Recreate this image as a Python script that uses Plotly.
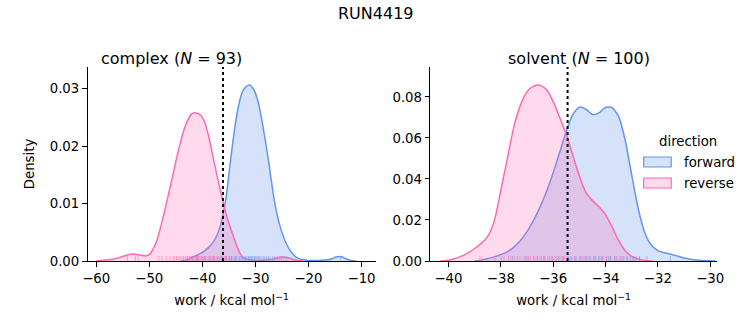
import plotly.graph_objects as go
from plotly.subplots import make_subplots

# ---------------- data ----------------
fig_title = "RUN4419"
panels = ["complex", "solvent"]
n_samples = [93, 100]
directions = ["forward", "reverse"]
x_label = "work / kcal mol<sup>\u22121</sup>"
y_label = "Density"

# density curves
complex_forward_x = [-44, -43, -42, -41, -40, -39, -38, -37.5, -37, -36.5, -36, -35.5, -35, -34.5, -34,
                     -33.5, -33, -32.5, -32, -31.5, -31, -30.5, -30, -29.5, -29, -28.5, -28, -27.5,
                     -27, -26.5, -26, -25.5, -25, -24.5, -24, -23.5, -23, -22.5, -22, -21, -20, -18,
                     -16.5, -15.5, -14.8, -14.2, -13.6, -13, -12, -11]
complex_forward_density = [0, 0.0002, 0.0006, 0.0010, 0.0015, 0.0022, 0.0032, 0.0040, 0.0050, 0.0065,
                           0.0085, 0.0112, 0.0150, 0.0189, 0.0224, 0.0254, 0.0277, 0.0293, 0.0301,
                           0.0305, 0.0306, 0.0301, 0.0292, 0.0277, 0.0256, 0.0230, 0.0202, 0.0173,
                           0.0140, 0.0109, 0.0085, 0.0065, 0.0050, 0.0037, 0.0027, 0.0019, 0.0013,
                           0.0008, 0.0005, 0.0002, 0.0001, 0.0001, 0.0002, 0.0004, 0.0007, 0.0008,
                           0.0007, 0.0004, 0.0001, 0]

complex_reverse_x = [-60, -59, -58, -57, -56, -55, -54, -53, -52, -51, -50.5, -50, -49.5, -49, -48.5,
                     -48, -47.5, -47, -46.5, -46, -45.5, -45, -44.5, -44, -43.5, -43, -42.5, -42,
                     -41.5, -41, -40.5, -40, -39.5, -39, -38.5, -38, -37.5, -37, -36.5, -36, -35.5,
                     -35, -34.5, -34, -33.5, -33, -32.5, -32, -31, -30, -29, -28, -27, -26, -25, -24,
                     -23, -22, -21]
complex_reverse_density = [0, 0.0001, 0.0002, 0.0003, 0.0005, 0.0008, 0.0011, 0.0012, 0.0011, 0.0009,
                           0.0009, 0.0011, 0.0017, 0.0026, 0.0038, 0.0054, 0.0072, 0.0091, 0.0111,
                           0.0131, 0.0152, 0.0173, 0.0193, 0.0211, 0.0227, 0.0240, 0.0250, 0.0256,
                           0.0258, 0.0257, 0.0255, 0.0250, 0.0240, 0.0224, 0.0204, 0.0182, 0.0160,
                           0.0139, 0.0119, 0.0099, 0.0081, 0.0066, 0.0052, 0.0039, 0.0026, 0.0015,
                           0.0008, 0.0004, 0.0002, 0.0001, 0.0001, 0.0002, 0.0003, 0.0005, 0.0007,
                           0.0006, 0.0003, 0.0001, 0]

solvent_forward_x = [-39.0, -38.75, -38.5, -38.25, -38, -37.75, -37.5, -37.25, -37, -36.75, -36.5,
                     -36.25, -36, -35.75, -35.5, -35.25, -35.0, -34.75, -34.5, -34.25, -34.0, -33.75,
                     -33.5, -33.25, -33.0, -32.75, -32.5, -32.25, -32, -31.75, -31.5, -31.25, -31,
                     -30.75, -30.5, -30.25, -30, -29.8]
solvent_forward_density = [0, 0.0004, 0.0012, 0.0020, 0.0031, 0.0046, 0.0068, 0.0100, 0.0143, 0.0198,
                           0.0264, 0.0340, 0.0430, 0.0530, 0.0632, 0.0715, 0.0750, 0.0740, 0.0714,
                           0.0722, 0.0750, 0.0748, 0.0705, 0.0590, 0.0420, 0.0255, 0.0138, 0.0078,
                           0.0051, 0.0040, 0.0033, 0.0024, 0.0015, 0.0009, 0.0005, 0.0002, 0.0001, 0]

solvent_reverse_x = [-40.3, -40, -39.75, -39.5, -39.25, -39, -38.75, -38.5, -38.25, -38, -37.75, -37.5,
                     -37.25, -37, -36.75, -36.5, -36.25, -36, -35.75, -35.5, -35.25, -35, -34.75,
                     -34.5, -34.25, -34, -33.75, -33.5, -33.25, -33, -32.75, -32.5, -32.2]
solvent_reverse_density = [0, 0.0004, 0.0012, 0.0024, 0.0040, 0.0061, 0.0086, 0.0120, 0.0195, 0.0345,
                           0.0500, 0.0655, 0.0760, 0.0825, 0.0853, 0.0857, 0.0835, 0.0778, 0.0700,
                           0.0618, 0.0515, 0.0415, 0.0335, 0.0295, 0.0265, 0.0226, 0.0166, 0.0100,
                           0.0050, 0.0023, 0.0010, 0.0003, 0]

# individual work values (rug)
complex_forward_rug = [-41.0, -39.7, -38.4, -37.9, -37.1, -36.5, -36.2, -35.6, -35.4, -34.9, -34.6, -34.5,
                       -34.0, -33.7, -33.6, -33.1, -32.9, -32.5, -32.4, -32.0, -31.9, -31.6, -31.3,
                       -31.2, -30.9, -30.7, -30.6, -30.2, -30.1, -29.9, -29.7, -29.4, -29.2, -28.9,
                       -28.5, -28.3, -27.9, -27.6, -27.3, -26.8, -26.4, -25.8, -25.1, -24.2, -13.9]
complex_reverse_rug = [-54.1, -52.6, -52.1, -48.2, -47.6, -46.8, -46.1, -45.5, -45.3, -44.9, -44.8,
                       -44.4, -44.2, -43.9, -43.6, -43.5, -43.2, -42.9, -42.8, -42.5, -42.3, -42.2,
                       -41.9, -41.7, -41.6, -41.3, -41.1, -40.9, -40.7, -40.6, -40.3, -40.1, -39.9,
                       -39.7, -39.4, -39.3, -38.9, -38.6, -38.5, -38.0, -37.7, -37.4, -37.0, -36.7,
                       -36.3, -35.9, -35.5, -35.0, -34.4, -33.7, -26.1, -25.4, -24.7]
solvent_forward_rug = [-37.55, -37.0, -36.6, -36.35, -36.05, -35.8, -35.62, -35.4, -35.33, -35.18,
                       -35.12, -34.98, -34.9, -34.76, -34.7, -34.58, -34.45, -34.4, -34.27, -34.15,
                       -34.1, -33.96, -33.88, -33.8, -33.66, -33.6, -33.48, -33.37, -33.3, -33.18,
                       -33.05, -32.96, -32.84, -32.7, -32.42, -31.52]
solvent_reverse_rug = [-38.8, -38.72, -38.23, -37.98, -37.88, -37.7, -37.62, -37.47, -37.36, -37.27,
                       -37.12, -37.06, -36.94, -36.87, -36.74, -36.7, -36.6, -36.5, -36.46, -36.36,
                       -36.31, -36.2, -36.14, -36.03, -35.93, -35.86, -35.74, -35.66, -35.57, -35.46,
                       -35.28, -35.17, -34.98, -34.82, -34.62, -34.38, -34.22, -33.96, -33.82, -33.58,
                       -33.42, -33.17, -32.92, -32.7]

# dotted reference lines (one per panel)
reference_work = [-36.1, -35.45]

# ---------------- style ----------------
FONT = "DejaVu Sans"
W, H = 753, 325
line_colors = {"forward": "#6495ED", "reverse": "#FF69B4"}
fill_colors = {"forward": "rgba(100,149,237,0.27)", "reverse": "rgba(255,105,180,0.25)"}
rug_colors = {"forward": "rgba(100,149,237,0.55)", "reverse": "rgba(255,105,180,0.55)"}
x_ranges = [[-61.61, -7.33], [-40.69, -29.75]]
y_ranges = [[0, 0.03375], [0, 0.0946]]
x_dtick = [10, 2]
y_dtick = [0.01, 0.02]
x_domains = [[84 / W, 376.7 / W], [432.3 / W, 723.3 / W]]
M_TOP, M_BOT = 67, 64
PH = H - M_TOP - M_BOT

curves = {
    ("complex", "forward"): (complex_forward_x, complex_forward_density, complex_forward_rug),
    ("complex", "reverse"): (complex_reverse_x, complex_reverse_density, complex_reverse_rug),
    ("solvent", "forward"): (solvent_forward_x, solvent_forward_density, solvent_forward_rug),
    ("solvent", "reverse"): (solvent_reverse_x, solvent_reverse_density, solvent_reverse_rug),
}

titles = [f"{p} (<i>N</i> = {n})" for p, n in zip(panels, n_samples)]
fig = make_subplots(rows=1, cols=2, subplot_titles=titles)

for ci, panel in enumerate(panels):
    col = ci + 1
    rug_h = 0.025 * y_ranges[ci][1]
    for d in directions:
        xs, ys, rug = curves[(panel, d)]
        fig.add_trace(go.Scatter(x=xs, y=ys, mode="lines",
                                 line=dict(color=line_colors[d], width=1.5, shape="spline", smoothing=0.6),
                                 fill="tozeroy", fillcolor=fill_colors[d], showlegend=False,
                                 hoverinfo="skip"), row=1, col=col)
    for d in directions:
        xs, ys, rug = curves[(panel, d)]
        rx, ry = [], []
        for v in rug:
            rx += [v, v, None]
            ry += [0, rug_h, None]
        fig.add_trace(go.Scatter(x=rx, y=ry, mode="lines", line=dict(color=rug_colors[d], width=1),
                                 showlegend=False, hoverinfo="skip"), row=1, col=col)
    xa = "x" if ci == 0 else "x2"
    fig.add_shape(type="line", xref=xa, yref=("y domain" if ci == 0 else "y2 domain"),
                  x0=reference_work[ci], x1=reference_work[ci], y0=0, y1=1,
                  line=dict(color="black", width=2, dash="dot"))

axis_common = dict(showline=True, linecolor="black", linewidth=1, ticks="outside", ticklen=4.7,
                   tickwidth=1, tickcolor="black", showgrid=False, zeroline=False,
                   tickfont=dict(family=FONT, size=13.3, color="black"))
for ci in range(2):
    sfx = "" if ci == 0 else "2"
    fig.layout["xaxis" + sfx].update(domain=x_domains[ci], range=x_ranges[ci], dtick=x_dtick[ci],
                                     tick0=0, **axis_common,
                                     title=dict(text=x_label, standoff=11,
                                                font=dict(family=FONT, size=13.3, color="black")))
    fig.layout["yaxis" + sfx].update(domain=[0, 1], range=y_ranges[ci], dtick=y_dtick[ci], tick0=0,
                                     tickformat=".2f", **axis_common)
fig.layout.yaxis.title = dict(text=y_label, standoff=12, font=dict(family=FONT, size=13.3, color="black"))

for ann in fig.layout.annotations:
    ann.font = dict(family=FONT, size=16, color="black")
    ann.yshift = -3

# figure title
fig.add_annotation(text=fig_title, xref="paper", yref="paper", x=0.5, y=1 + (M_TOP - 13) / PH,
                   xanchor="center", yanchor="middle", showarrow=False,
                   font=dict(family=FONT, size=16, color="black"))

# legend (drawn as patches + labels, seaborn style)
leg_x0, leg_x1, leg_text_x = 649 / W, 677 / W, 688 / W
fig.add_annotation(text="direction", xref="paper", yref="paper", x=694.5 / W, y=(M_TOP + PH - 141) / PH,
                   xanchor="center", yanchor="middle", showarrow=False,
                   font=dict(family=FONT, size=13.3, color="black"))
for i, d in enumerate(directions):
    cy = 162 + 21 * i
    fig.add_shape(type="rect", xref="paper", yref="paper", x0=leg_x0, x1=leg_x1,
                  y0=(M_TOP + PH - (cy - 5)) / PH, y1=(M_TOP + PH - (cy + 5)) / PH,
                  fillcolor=fill_colors[d], line=dict(color=line_colors[d], width=1.2))
    fig.add_annotation(text=d, xref="paper", yref="paper", x=leg_text_x, y=(M_TOP + PH - cy) / PH,
                       xanchor="left", yanchor="middle", showarrow=False,
                       font=dict(family=FONT, size=13.3, color="black"))

fig.update_layout(width=W, height=H, margin=dict(l=0, r=0, t=M_TOP, b=M_BOT),
                  plot_bgcolor="white", paper_bgcolor="white", showlegend=False,
                  font=dict(family=FONT, color="black"))

fig.write_html("out.html")
